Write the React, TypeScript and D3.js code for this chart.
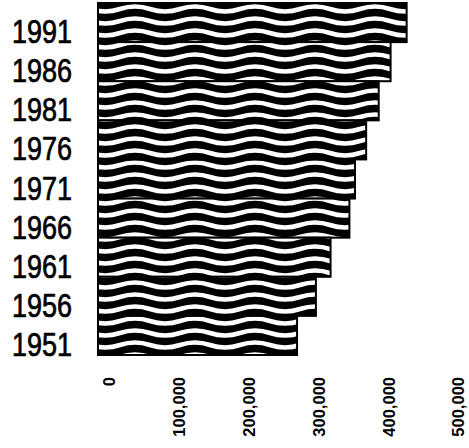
import * as d3 from 'd3'

const years = ['1991', '1986', '1981', '1976', '1971', '1966', '1961', '1956', '1951']
const values = [425000, 402000, 385000, 367000, 351000, 343000, 316000, 295000, 268000]
const tickValues = [0, 100000, 200000, 300000, 400000, 500000]

const width = 469
const height = 448

// wavy white lines for the bar fill, one big tile so there are no seams
const waveSpacing = 12
const waveLength = 60
const wavePath = () => {
  let d = ''
  for (let yy = 6; yy < 372; yy += waveSpacing) {
    d += `M0,${yy} Q${waveLength / 4},${yy - 5} ${waveLength / 2},${yy}`
    for (let xx = waveLength; xx <= 480; xx += waveLength / 2) d += ` T${xx},${yy}`
  }
  return d
}

export default function App() {
  const x = d3.scaleLinear().domain([0, 500000]).range([110, 459])
  const y = d3.scaleBand<string>().domain(years).range([3, 355]).padding(0)
  const barStart = x(0) - 12 // bars reach a little left of the zero tick
  const fmt = d3.format(',')

  return (
    <svg
      width={width}
      height={height}
      style={{ position: 'absolute', left: 0, top: 0, background: '#fff' }}
    >
      <defs>
        <pattern id="waves" patternUnits="userSpaceOnUse" width={480} height={372} x={0} y={3}>
          <rect width={480} height={372} fill="#000" />
          <path d={wavePath()} fill="none" stroke="#fff" strokeWidth={4.5} />
        </pattern>
      </defs>

      {years.map((yr, i) => (
        <rect
          key={yr}
          x={barStart}
          y={y(yr)}
          width={x(values[i]) - barStart}
          height={y.bandwidth()}
          fill="url(#waves)"
          stroke="#000"
          strokeWidth={2}
        />
      ))}

      {years.map((yr) => (
        <text
          key={yr}
          transform={`translate(72,${(y(yr) as number) + y.bandwidth() + 1}) scale(1,1.2)`}
          textAnchor="end"
          fontFamily="'Liberation Sans', Arial, sans-serif"
          fontSize={27}
          fill="#000"
          stroke="#000"
          strokeWidth={0.6}
        >
          {yr}
        </text>
      ))}

      {tickValues.map((v) => (
        <text
          key={v}
          transform={`translate(${x(v)},377) rotate(-90)`}
          dy="0.33em"
          textAnchor="end"
          fontFamily="'Liberation Sans', Arial, sans-serif"
          fontWeight="bold"
          fontSize={16.5}
          fill="#000"
        >
          {fmt(v)}
        </text>
      ))}
    </svg>
  )
}
